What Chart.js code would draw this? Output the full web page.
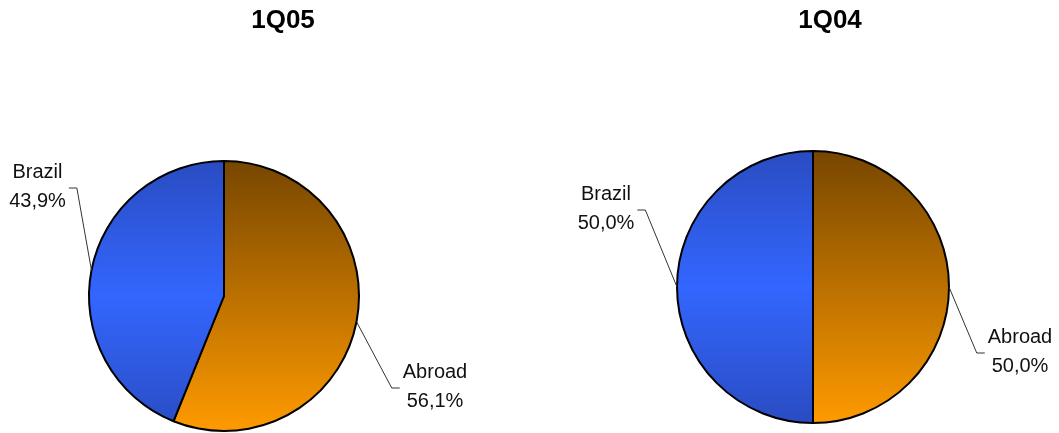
<!DOCTYPE html>
<html>
<head>
<meta charset="utf-8">
<script src="https://cdn.jsdelivr.net/npm/chart.js@4.4.1/dist/chart.umd.min.js"></script>
<style>
    html, body { margin: 0; padding: 0; background: #fff; overflow: hidden; }
    #wrap { position: relative; width: 1059px; height: 433px; }
    #wrap canvas { position: absolute; left: 0; top: 0; }
</style>
</head>
<body>
<div id="wrap">
    <canvas id="pie1Q05" width="1059" height="433"></canvas>
    <canvas id="pie1Q04" width="1059" height="433"></canvas>
</div>
<script>
// chart data
const periods = ['1Q05', '1Q04'];
const categories = ['Abroad', 'Brazil'];
const share1Q05 = [56.1, 43.9];
const share1Q04 = [50.0, 50.0];

const fmt = (v) => v.toFixed(1).replace('.', ',') + '%';

// gradient fills, built from the pie's own box
const sliceFill = (ctx, index, area, radius) => {
    const cy = (area.top + area.bottom) / 2;
    const g = ctx.createLinearGradient(0, cy - radius, 0, cy + radius);
    if (index === 0) {
        g.addColorStop(0, '#774600');
        g.addColorStop(1, '#ff9a00');
    } else {
        g.addColorStop(0, '#2a4cc2');
        g.addColorStop(0.5, '#3366ff');
        g.addColorStop(1, '#2a4cc2');
    }
    return g;
};

// labels outside the pie with leader lines, plus the title
const outLabels = {
    id: 'outLabels',
    afterDatasetsDraw(chart, args, opts) {
        const { ctx } = chart;
        const meta = chart.getDatasetMeta(0);
        const values = chart.data.datasets[0].data;
        ctx.save();
        ctx.font = '20px "Liberation Sans", Arial, sans-serif';
        ctx.textBaseline = 'middle';
        ctx.textAlign = 'center';
        meta.data.forEach((arc, i) => {
            const p = arc.getProps(['x', 'y', 'startAngle', 'endAngle', 'outerRadius'], true);
            const mid = (p.startAngle + p.endAngle) / 2;
            const ex = p.x + Math.cos(mid) * p.outerRadius;
            const ey = p.y + Math.sin(mid) * p.outerRadius;
            const pos = opts.positions[i];
            const lx = p.x + pos.dx;
            const ly = p.y + pos.dy;
            const lines = [chart.data.labels[i], fmt(values[i])];
            const w = Math.max(...lines.map(s => ctx.measureText(s).width));
            const side = pos.dx < 0 ? 1 : -1;
            const hx0 = lx + side * (w / 2 + 3);
            const hx1 = hx0 + side * 8;
            ctx.strokeStyle = '#333';
            ctx.lineWidth = 1;
            ctx.beginPath();
            ctx.moveTo(hx0, ly + 1);
            ctx.lineTo(hx1, ly + 1);
            ctx.lineTo(ex, ey);
            ctx.stroke();
            ctx.fillStyle = '#111';
            ctx.fillText(lines[0], lx, ly - 14.5);
            ctx.fillText(lines[1], lx, ly + 14.5);
        });
        const a = chart.chartArea;
        ctx.font = 'bold 26px "Liberation Sans", Arial, sans-serif';
        ctx.textBaseline = 'alphabetic';
        ctx.fillStyle = '#000';
        ctx.fillText(opts.title, (a.left + a.right) / 2 + opts.titleDx, 28);
        ctx.restore();
    }
};

const makePie = (id, title, values, radius, padding, titleDx, positions) => {
    const canvas = document.getElementById(id);
    return new Chart(canvas.getContext('2d'), {
        type: 'pie',
        data: {
            labels: categories,
            datasets: [{
                data: values,
                backgroundColor: (c) => {
                    const area = c.chart.chartArea;
                    if (!area) return '#888';
                    return sliceFill(c.chart.ctx, c.dataIndex, area, radius);
                },
                borderColor: '#000',
                borderWidth: 2
            }]
        },
        options: {
            responsive: false,
            animation: false,
            radius: radius,
            layout: { padding: padding },
            events: [],
            plugins: {
                legend: { display: false },
                tooltip: { enabled: false },
                outLabels: { title: title, titleDx: titleDx, positions: positions }
            }
        },
        plugins: [outLabels]
    });
};

makePie('pie1Q05', periods[0], share1Q05, 135,
    { left: 0, right: 611, top: 159, bottom: 0 }, 59,
    [{ dx: 211, dy: 91 }, { dx: -186.5, dy: -109 }]);

makePie('pie1Q04', periods[1], share1Q04, 136,
    { left: 567, right: 0, top: 141, bottom: 0 }, 17,
    [{ dx: 207, dy: 65 }, { dx: -207, dy: -78 }]);
</script>
</body>
</html>
